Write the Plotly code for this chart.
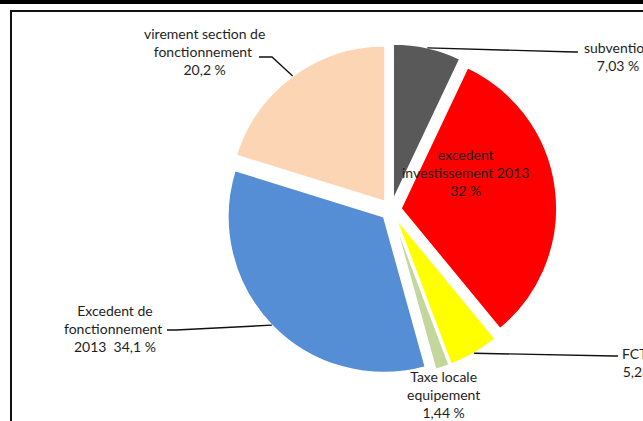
import math
import plotly.graph_objects as go

# ---- data ----
labels = ["subvention", "excedent investissement 2013", "FCTVA",
          "Taxe locale equipement", "Excedent de fonctionnement 2013",
          "virement section de fonctionnement"]
values = [7.03, 32.0, 5.23, 1.44, 34.1, 20.2]
label_texts = ["subvention<br>7,03 %",
               "excedent<br>investissement 2013<br>32 %",
               "FCTVA<br>5,23 %",
               "Taxe locale<br>equipement<br>1,44 %",
               "Excedent de<br>fonctionnement <br>2013  34,1 %",
               "virement section de<br>fonctionnement <br>20,2 %"]
colors = ["#595959", "#FF0000", "#FFFF00", "#C3D69B", "#558ED5", "#FCD5B5"]

W, H = 643, 421
PULL = 0.065
dom_x = [0.3501, 0.8661]
dom_y = [0.1078, 0.8960]

# plotly pie geometry (pixels)
boxW = (dom_x[1] - dom_x[0]) * W
boxH = (dom_y[1] - dom_y[0]) * H
R = min(boxW, boxH) / (2 + 2 * PULL)
CX = W * (dom_x[0] + dom_x[1]) / 2
CY = H * (1 - dom_y[0]) - boxH / 2

total = sum(values)
mids = []
acc = 0.0
for v in values:
    mids.append((acc + v / 2) / total * 2 * math.pi)
    acc += v


def arc_point(i, k=1.0):
    a = mids[i]
    d = (PULL + k) * R
    return CX + d * math.sin(a), CY - d * math.cos(a)


def px(x, y):
    return x / W, 1 - y / H


# label layout: (text center px, leader path points after the arc point)
label_pos = [(618, 56), (465.5, 172), (644, 362), (443, 394), (114.5, 328), (204, 52)]
leader_via = {
    0: [(574, 52), (578, 52)],
    2: [(614, 356), (618, 356)],
    4: [(176, 330), (167, 330)],
    5: [(272, 57), (259, 57)],
}

fig = go.Figure(go.Pie(
    labels=labels, values=values, sort=False, direction="clockwise", rotation=0,
    pull=[PULL] * len(values), textinfo="none", hoverinfo="none",
    marker=dict(colors=colors, line=dict(color="white", width=1.5)),
    domain=dict(x=dom_x, y=dom_y), showlegend=False,
))

shapes = []
for i, via in leader_via.items():
    pts = [arc_point(i)] + via
    path = "M " + " L ".join(f"{px(x, y)[0]:.5f},{px(x, y)[1]:.5f}" for x, y in pts)
    shapes.append(dict(type="path", path=path, xref="paper", yref="paper",
                       line=dict(color="#111111", width=1.4)))

# frame
shapes.append(dict(type="rect", xref="paper", yref="paper",
                   x0=11 / W, x1=1.05, y0=-0.05, y1=1 - 11 / H,
                   line=dict(color="#111111", width=2)))
shapes.append(dict(type="rect", xref="paper", yref="paper",
                   x0=-0.01, x1=1.01, y0=1 - 4 / H, y1=1.01,
                   fillcolor="#000000", line=dict(width=0)))

annotations = []
for i, t in enumerate(label_texts):
    x, y = px(*label_pos[i])
    annotations.append(dict(text=t, x=x, y=y, xref="paper", yref="paper",
                            showarrow=False, xanchor="center", yanchor="middle",
                            align="center",
                            font=dict(family="Lato", size=14, color="#1e1e1e")))

fig.update_layout(
    width=W, height=H, margin=dict(l=0, r=0, t=0, b=0),
    paper_bgcolor="white", plot_bgcolor="white",
    shapes=shapes, annotations=annotations,
)

fig.write_html("out.html")
